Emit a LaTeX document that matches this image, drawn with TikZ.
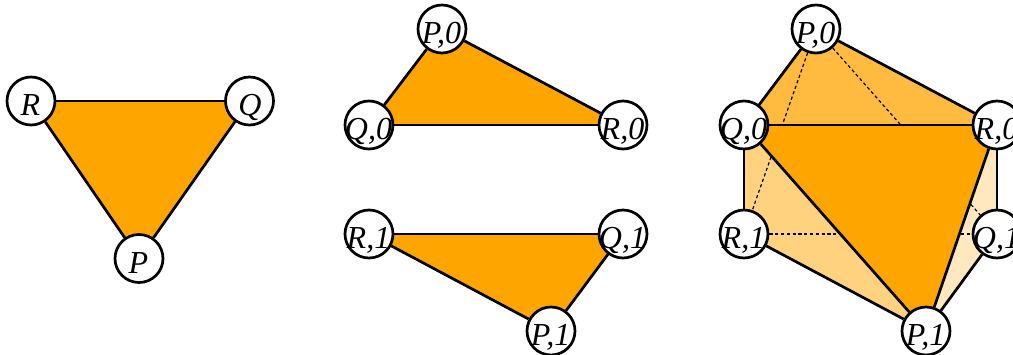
\documentclass[tikz,border=0pt]{standalone}
\usepackage{fontspec}
\setmainfont{Liberation Serif}
\usetikzlibrary{backgrounds}
\newcommand{\vlab}[1]{\makebox[0pt]{\smash{\raisebox{-14.5pt}{\fontsize{32pt}{32pt}\selectfont\itshape\kern-1pt #1}}}}
\tikzset{
  vert/.style={circle,draw=black,fill=white,line width=2.7pt,minimum size=48pt,inner sep=0pt},
  edge/.style={draw=black,line width=2.7pt},
  hidden/.style={draw=black,line width=1.2pt,dash pattern=on 3.2pt off 2.6pt},
  full/.style={fill=orange},
  top/.style={fill=orange!75!white},
  lft/.style={fill=orange!50!white},
  rgt/.style={fill=orange!25!white}
}
\definecolor{orange}{RGB}{255,165,0}
\begin{document}
\begin{tikzpicture}[x=1pt,y=-1pt]
\useasboundingbox (0,0) rectangle (1013,354);
% left
\node[vert] (R) at (31,101) {\vlab{R}};
\node[vert] (Q) at (249.5,101) {\vlab{\kern2pt Q}};
\node[vert] (P) at (139,258.5) {\vlab{P}};
% middle
\node[vert] (mP0) at (442,29) {\vlab{P,0}};
\node[vert] (mQ0) at (369,125) {\vlab{Q,0}};
\node[vert] (mR0) at (623,125) {\vlab{R,0}};
\node[vert] (mR1) at (369,234) {\vlab{R,1}};
\node[vert] (mQ1) at (623,234) {\vlab{Q,1}};
\node[vert] (mP1) at (551,331) {\vlab{P,1}};
% right
\node[vert] (rP0) at (816,29) {\vlab{P,0}};
\node[vert] (rQ0) at (744,125) {\vlab{Q,0}};
\node[vert] (rR0) at (997,125) {\vlab{R,0}};
\node[vert] (rR1) at (744,234) {\vlab{R,1}};
\node[vert] (rQ1) at (997,234) {\vlab{Q,1}};
\node[vert] (rP1) at (926,331) {\vlab{P,1}};
\begin{scope}[on background layer]
  \fill[full] (R.center) -- (Q.center) -- (P.center) -- cycle;
  \fill[full] (mP0.center) -- (mQ0.center) -- (mR0.center) -- cycle;
  \fill[full] (mR1.center) -- (mQ1.center) -- (mP1.center) -- cycle;
  \fill[top] (rP0.center) -- (rQ0.center) -- (rR0.center) -- cycle;
  \fill[lft] (rQ0.center) -- (rR1.center) -- (rP1.center) -- cycle;
  \fill[rgt] (rR0.center) -- (rQ1.center) -- (rP1.center) -- cycle;
  \draw[hidden] (rP0) -- (rR1);
  \draw[hidden] (rP0) -- (rQ1);
  \draw[hidden] (rR1) -- (rQ1);
  \fill[full] (rQ0.center) -- (rR0.center) -- (rP1.center) -- cycle;
\end{scope}
\draw[edge] (R) -- (Q);
\draw[edge] (Q) -- (P);
\draw[edge] (P) -- (R);
\draw[edge] (mP0) -- (mQ0);
\draw[edge] (mQ0) -- (mR0);
\draw[edge] (mR0) -- (mP0);
\draw[edge] (mR1) -- (mQ1);
\draw[edge] (mQ1) -- (mP1);
\draw[edge] (mP1) -- (mR1);
\draw[edge] (rP0) -- (rQ0);
\draw[edge] (rP0) -- (rR0);
\draw[edge] (rQ0) -- (rR0);
\draw[edge] (rQ0) -- (rR1);
\draw[edge] (rR0) -- (rQ1);
\draw[edge] (rR1) -- (rP1);
\draw[edge] (rQ1) -- (rP1);
\draw[edge] (rQ0) -- (rP1);
\draw[edge] (rR0) -- (rP1);
\end{tikzpicture}
\end{document}
